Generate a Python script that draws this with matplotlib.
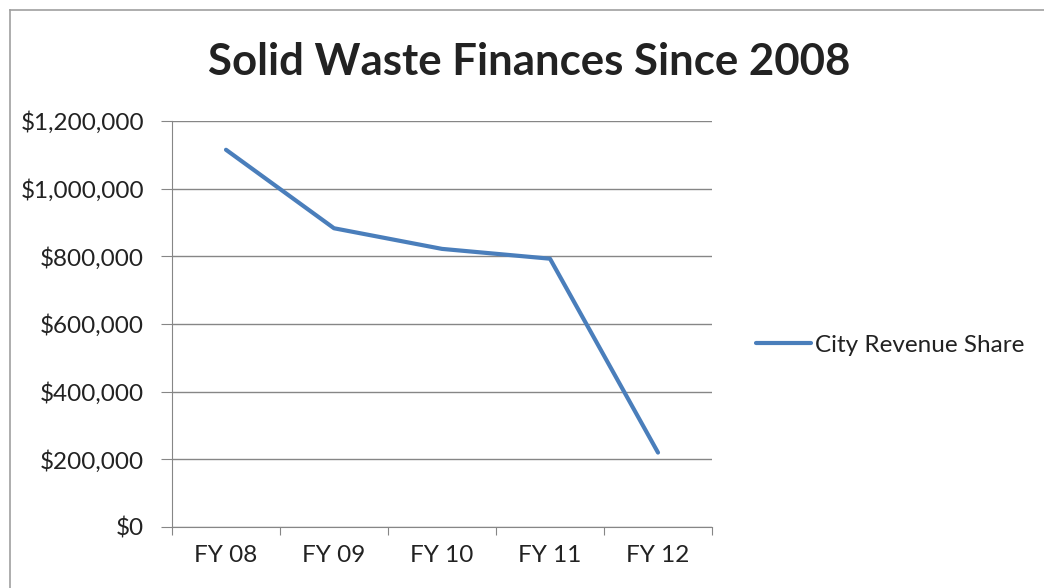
import matplotlib.pyplot as plt
from matplotlib.lines import Line2D
from matplotlib.ticker import FuncFormatter

plt.rcParams['font.family'] = ['Lato', 'DejaVu Sans']

years = ['FY 08', 'FY 09', 'FY 10', 'FY 11', 'FY 12']
revenue = [1115000, 883000, 822000, 793000, 220000]

fig = plt.figure(figsize=(10.44, 5.88), dpi=100)
W, H = 1044, 588
ax = fig.add_axes([172 / W, 1 - 527 / H, 540 / W, 406 / H])

x = list(range(len(years)))
ax.plot(x, revenue, color='#4a7ebb', linewidth=3.0, solid_capstyle='round',
        label='City Revenue Share')

ax.set_xlim(-0.5, len(years) - 0.5)
ax.set_ylim(0, 1200000)
ax.set_yticks(range(0, 1200001, 200000))
ax.yaxis.set_major_formatter(FuncFormatter(lambda v, p: '${:,.0f}'.format(v)))
ax.set_xticks([i - 0.5 for i in range(len(years) + 1)])
ax.set_xticklabels([])
ax.set_xticks(x, minor=True)
ax.set_xticklabels(years, minor=True)

ax.grid(axis='y', color='#868686', linewidth=1)
for s in ['top', 'right']:
    ax.spines[s].set_visible(False)
for s in ['left', 'bottom']:
    ax.spines[s].set_color('#868686')
ax.tick_params(axis='y', which='major', length=8, color='#868686', labelsize=17.5,
               labelcolor='#222222', pad=12)
ax.tick_params(axis='x', which='major', length=6, color='#868686')
ax.tick_params(axis='x', which='minor', length=0, labelsize=17.5,
               labelcolor='#222222', pad=13)

fig.text(529 / W, 1 - 62 / H, 'Solid Waste Finances Since 2008', ha='center',
         va='center', fontsize=31.5, fontweight='bold', color='#222222')

ax.legend(loc='center left', bbox_to_anchor=(734 / W, 1 - 345 / H),
          bbox_transform=fig.transFigure, frameon=False, fontsize=17.5,
          handlelength=2.25, handletextpad=0.2, labelcolor='#222222')

# chart border (top and left visible)
fig.add_artist(Line2D([10 / W, 1], [1 - 10 / H, 1 - 10 / H], transform=fig.transFigure,
                      color='#a0a0a0', linewidth=1.2))
fig.add_artist(Line2D([10 / W, 10 / W], [0, 1 - 10 / H], transform=fig.transFigure,
                      color='#a0a0a0', linewidth=1.2))

plt.savefig('out.png', dpi=100)
